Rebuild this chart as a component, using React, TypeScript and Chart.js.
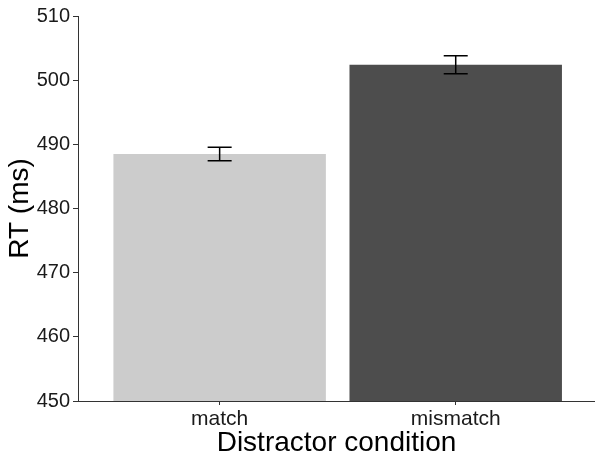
import React, { useEffect, useRef } from "react";
import { Chart, registerables } from "chart.js";

Chart.register(...registerables);

const categories = ["match", "mismatch"];
const meanRT = [488.5, 502.4];
const errRT = [1.05, 1.4];
const barColors = ["#cccccc", "#4d4d4d"];
const yTicks = [450, 460, 470, 480, 490, 500, 510];

const errorBarPlugin = {
  id: "errorBars",
  afterDatasetsDraw(chart: any) {
    const ctx = chart.ctx;
    const xs = chart.scales.x;
    const ys = chart.scales.y;
    ctx.save();
    ctx.strokeStyle = "#000000";
    ctx.lineWidth = 1.5;
    meanRT.forEach((m, i) => {
      const x = xs.getPixelForValue(i + 1);
      const yTop = ys.getPixelForValue(m + errRT[i]);
      const yBot = ys.getPixelForValue(m - errRT[i]);
      const half = 12;
      ctx.beginPath();
      ctx.moveTo(x, yTop);
      ctx.lineTo(x, yBot);
      ctx.moveTo(x - half, yTop);
      ctx.lineTo(x + half, yTop);
      ctx.moveTo(x - half, yBot);
      ctx.lineTo(x + half, yBot);
      ctx.stroke();
    });
    ctx.restore();
  },
};

export default function App() {
  const ref = useRef<HTMLCanvasElement | null>(null);
  useEffect(() => {
    if (!ref.current) return;
    const chart = new Chart(ref.current, {
      type: "bar",
      data: {
        datasets: [
          {
            data: meanRT.map((v, i) => ({ x: i + 1, y: v })),
            backgroundColor: barColors,
            borderWidth: 0,
            barPercentage: 0.9,
            categoryPercentage: 1,
          },
        ],
      },
      options: {
        animation: false,
        responsive: false,
        maintainAspectRatio: false,
        layout: { padding: { top: 16, right: 0, left: 0, bottom: 0 } },
        plugins: { legend: { display: false }, tooltip: { enabled: false } },
        scales: {
          x: {
            type: "linear",
            min: 0.4,
            max: 2.59,
            offset: false,
            afterBuildTicks: (axis: any) => {
              axis.ticks = categories.map((_, i) => ({ value: i + 1 }));
            },
            afterFit: (axis: any) => {
              axis.height = 56;
            },
            ticks: {
              color: "#1a1a1a",
              font: { family: "Liberation Sans, Arial, sans-serif", size: 21 },
              padding: 2,
              maxRotation: 0,
              autoSkip: false,
              callback: (v: any) => categories[Math.round(v) - 1] ?? "",
            },
            grid: {
              offset: false,
              drawOnChartArea: false,
              drawTicks: true,
              tickLength: 4,
              color: "#333333",
            },
            border: { display: true, color: "#333333", width: 1 },
            title: {
              display: true,
              text: "Distractor condition",
              color: "#000000",
              font: { family: "Liberation Sans, Arial, sans-serif", size: 28, lineHeight: 1.0 },
              padding: { top: 0, bottom: 0 },
            },
          },
          y: {
            type: "linear",
            min: 450,
            max: 510,
            afterBuildTicks: (axis: any) => {
              axis.ticks = yTicks.map((v) => ({ value: v }));
            },
            afterFit: (axis: any) => {
              axis.width = 78;
            },
            ticks: {
              color: "#1a1a1a",
              font: { family: "Liberation Sans, Arial, sans-serif", size: 20 },
              padding: 3,
            },
            grid: {
              drawOnChartArea: false,
              drawTicks: true,
              tickLength: 5,
              color: "#333333",
            },
            border: { display: true, color: "#333333", width: 1 },
            title: {
              display: true,
              text: "RT (ms)",
              color: "#000000",
              font: { family: "Liberation Sans, Arial, sans-serif", size: 28 },
              padding: { top: 3, bottom: 0 },
            },
          },
        },
      } as any,
      plugins: [errorBarPlugin],
    });
    return () => chart.destroy();
  }, []);
  return (
    <div style={{ position: "fixed", left: 0, top: 0, width: 595, height: 457, background: "#ffffff" }}>
      <canvas ref={ref} width={595} height={457} style={{ width: 595, height: 457 }} />
    </div>
  );
}
